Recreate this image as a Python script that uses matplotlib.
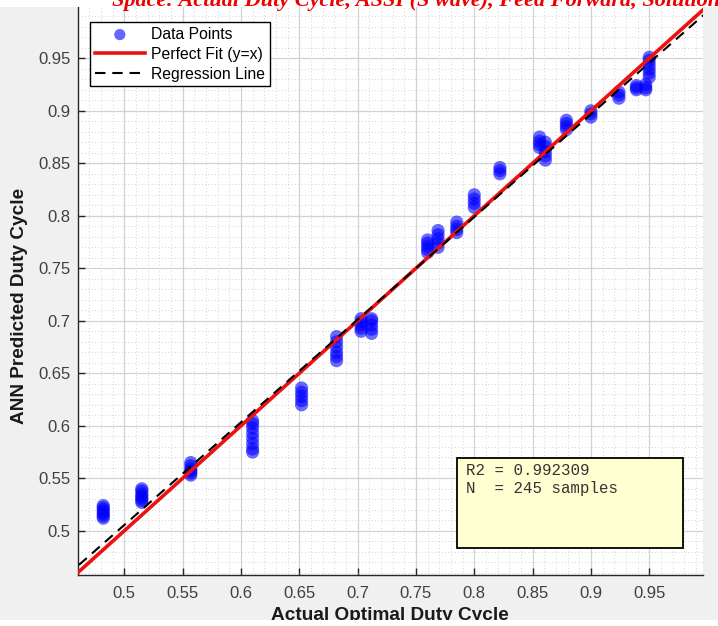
import matplotlib
matplotlib.use("Agg")
import matplotlib.pyplot as plt
from matplotlib.patches import Rectangle
from matplotlib.ticker import MultipleLocator
import numpy as np

# ---------------- data ----------------
cluster_actual = [0.482, 0.515, 0.557, 0.610, 0.652, 0.682, 0.703, 0.712,
                  0.760, 0.769, 0.785, 0.800, 0.822, 0.856, 0.861, 0.879,
                  0.900, 0.924, 0.939, 0.947, 0.950]
cluster_predicted = [
    [0.512, 0.514, 0.516, 0.518, 0.520, 0.522, 0.524],
    [0.527, 0.529, 0.531, 0.533, 0.535, 0.538, 0.540],
    [0.553, 0.555, 0.557, 0.559, 0.562, 0.565],
    [0.575, 0.578, 0.583, 0.588, 0.593, 0.598, 0.602, 0.605],
    [0.620, 0.624, 0.628, 0.632, 0.636],
    [0.662, 0.666, 0.670, 0.675, 0.680, 0.685],
    [0.690, 0.693, 0.696, 0.699, 0.702],
    [0.688, 0.692, 0.696, 0.700, 0.702],
    [0.765, 0.768, 0.771, 0.774, 0.777],
    [0.770, 0.774, 0.778, 0.782, 0.786],
    [0.784, 0.787, 0.790, 0.794],
    [0.808, 0.812, 0.816, 0.820],
    [0.840, 0.843, 0.846],
    [0.865, 0.868, 0.871, 0.875],
    [0.853, 0.857, 0.861, 0.866, 0.870],
    [0.882, 0.885, 0.888, 0.891],
    [0.894, 0.897, 0.900],
    [0.912, 0.915, 0.918],
    [0.920, 0.922, 0.924],
    [0.920, 0.922, 0.925],
    [0.932, 0.936, 0.940, 0.944, 0.948, 0.951],
]
fit_x = [0.45, 1.0]
reg_slope = 0.978
reg_intercept = 0.0165

x_ticks = [0.5, 0.55, 0.6, 0.65, 0.7, 0.75, 0.8, 0.85, 0.9, 0.95]
y_ticks = [0.5, 0.55, 0.6, 0.65, 0.7, 0.75, 0.8, 0.85, 0.9, 0.95]
x_tick_labels = ["0.5", "0.55", "0.6", "0.65", "0.7", "0.75", "0.8", "0.85", "0.9", "0.95"]
y_tick_labels = ["0.5", "0.55", "0.6", "0.65", "0.7", "0.75", "0.8", "0.85", "0.9", "0.95"]

stats_text = "R2 = 0.992309\nN  = 245 samples"
caption_text = "Space: Actual Duty Cycle, ASSI (S wave), Feed Forward, Solution"

actual = []
predicted = []
for xa, ys in zip(cluster_actual, cluster_predicted):
    for yv in ys:
        actual.append(xa)
        predicted.append(yv)

# ---------------- figure ----------------
W, H = 718, 626
fig = plt.figure(figsize=(W / 100, H / 100), dpi=100)
fig.patch.set_facecolor("#f0f0f0")
plt.rcParams["font.family"] = ["Liberation Sans", "DejaVu Sans"]

def px(x0, y0):
    return x0 / W, 1 - y0 / H

ax_left, ax_right, ax_bottom, ax_top = 77.5, 703, 575, 5.8
ax = fig.add_axes([ax_left / W, 1 - ax_bottom / H,
                   (ax_right - ax_left) / W, (ax_bottom - ax_top) / H])
ax.set_facecolor("white")
ax.set_xlim(0.4599, 0.9961)
ax.set_ylim(0.4579, 1.0)

ax.set_xticks(x_ticks)
ax.set_xticklabels(x_tick_labels)
ax.set_yticks(y_ticks)
ax.set_yticklabels(y_tick_labels)
ax.xaxis.set_minor_locator(MultipleLocator(0.01))
ax.yaxis.set_minor_locator(MultipleLocator(0.01))
ax.grid(which="major", color="#d2d2d2", linewidth=0.9, linestyle="-", zorder=0)
ax.grid(which="minor", color="#c4c4c4", linewidth=0.6, linestyle=(0, (1, 3)), zorder=0)
ax.set_axisbelow(True)

for s in ["top", "right"]:
    ax.spines[s].set_visible(False)
for s in ["left", "bottom"]:
    ax.spines[s].set_color("#262626")
    ax.spines[s].set_linewidth(1.0)
ax.tick_params(which="major", direction="in", length=5, width=1,
               colors="#262626", labelcolor="#404040", labelsize=12)
ax.tick_params(axis="y", which="major", pad=5)
ax.tick_params(axis="x", which="major", pad=8)
ax.tick_params(which="minor", length=0)

# marks
ax.scatter(actual, predicted, s=90, color="#0000ff", alpha=0.58,
           edgecolors="none", zorder=3, label="Data Points")
ax.plot(fit_x, fit_x, color="#ee1111", linewidth=2.6, zorder=4,
        label="Perfect Fit (y=x)")
reg_y = [reg_slope * v + reg_intercept for v in fit_x]
ax.plot(fit_x, reg_y, color="black", linewidth=1.5, linestyle=(0, (5, 3.3)),
        zorder=4, label="Regression Line")

leg = ax.legend(loc="upper left", bbox_to_anchor=px(90, 22),
                bbox_transform=fig.transFigure, fontsize=11.3,
                fancybox=False, framealpha=1, edgecolor="black",
                handlelength=3.2, handletextpad=0.4, borderpad=0.3,
                labelspacing=0.32, borderaxespad=0, markerscale=0.85)
leg.get_frame().set_linewidth(1.0)
leg.legend_handles[0].set_alpha(0.6)

# stats box
bx0, by0, bx1, by1 = 457, 458, 683, 548
fig.add_artist(Rectangle(px(bx0, by1), (bx1 - bx0) / W, (by1 - by0) / H,
                         transform=fig.transFigure, facecolor="#ffffd2",
                         edgecolor="black", linewidth=1.3, zorder=6))
fig.text(*px(466, 463), stats_text, ha="left", va="top",
         family=["Liberation Mono", "DejaVu Sans Mono"], fontsize=11.3,
         color="#333333", linespacing=1.22, zorder=7)

# axis labels
fig.text(*px(390, 616), "Actual Optimal Duty Cycle", ha="center", va="center",
         fontsize=13.7, fontweight="bold", color="#1a1a1a")
fig.text(*px(20, 306), "ANN Predicted Duty Cycle", ha="center", va="center",
         rotation=90, fontsize=13.7, fontweight="bold", color="#1a1a1a")

# white page strips (cropped document)
fig.add_artist(Rectangle((0, 0), 1, 6 / H, transform=fig.transFigure,
                         facecolor="white", edgecolor="none", zorder=8))
fig.add_artist(Rectangle((0, 1 - 7 / H), 1, 7 / H, transform=fig.transFigure,
                         facecolor="white", edgecolor="none", zorder=8))
fig.text(*px(112, 6), caption_text, ha="left", va="baseline",
         family=["Liberation Serif", "DejaVu Serif"], style="italic",
         fontweight="bold", fontsize=16, color="#ee0000", zorder=9)

fig.savefig("out.png", dpi=100, facecolor=fig.get_facecolor())
